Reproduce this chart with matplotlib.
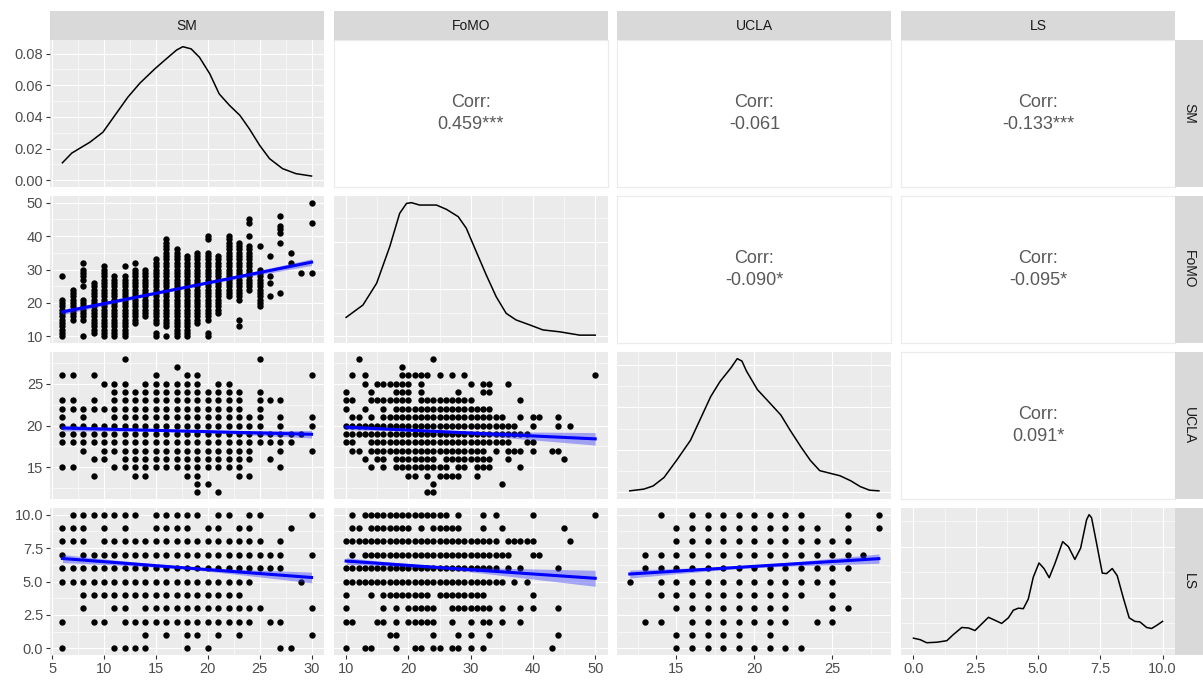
import numpy as np
import matplotlib
matplotlib.use('Agg')
import matplotlib.pyplot as plt
from matplotlib.ticker import MultipleLocator, FormatStrFormatter

plt.rcParams['font.family'] = ['Liberation Sans', 'DejaVu Sans']

# variables and their observed ranges
variables = ['SM', 'FoMO', 'UCLA', 'LS']
data_range = {'SM': (6, 30), 'FoMO': (10, 50), 'UCLA': (12, 28), 'LS': (0, 10)}
major_step = {'SM': 5, 'FoMO': 10, 'UCLA': 5, 'LS': 2.5}
tick_fmt = {'SM': '%d', 'FoMO': '%d', 'UCLA': '%d', 'LS': '%.1f'}

# correlations shown in the upper triangle
corr_labels = {
    ('SM', 'FoMO'): '0.459***',
    ('SM', 'UCLA'): '-0.061',
    ('SM', 'LS'): '-0.133***',
    ('FoMO', 'UCLA'): '-0.090*',
    ('FoMO', 'LS'): '-0.095*',
    ('UCLA', 'LS'): '0.091*',
}

# density curves on the diagonal
sm_density_x = [6.0, 6.9, 8.65, 9.9, 11.05, 12.3, 13.45, 14.9, 16.0, 17.0, 17.6, 18.4,
                19.2, 20.2, 21.1, 22.1, 23.1, 24.0, 25.0, 25.95, 27.2, 28.5, 30.0]
sm_density_y = [0.0111, 0.0172, 0.0241, 0.0304, 0.0410, 0.0525, 0.0613, 0.0704, 0.0767,
                0.0823, 0.0844, 0.0830, 0.0777, 0.0672, 0.0546, 0.0473, 0.0410, 0.0326,
                0.0221, 0.0137, 0.0074, 0.0042, 0.0027]

fomo_density_x = [10, 12.7, 14.9, 17, 18.6, 19.7, 20.5, 21.8, 24.5, 26.1, 28, 29.3, 30.9,
                  32.5, 34.1, 35.7, 37.3, 39.5, 41.6, 44.3, 47.5, 50]
fomo_density_y = [0.0080, 0.0132, 0.0224, 0.0378, 0.0519, 0.0561, 0.0564, 0.0554, 0.0554,
                  0.0536, 0.0505, 0.0456, 0.0357, 0.0259, 0.0167, 0.0097, 0.0069, 0.0048,
                  0.0027, 0.0019, 0.0005, 0.0005]

ucla_density_x = [12.0, 12.9, 13.5, 14.2, 15.0, 15.9, 16.5, 17.2, 17.8, 18.5, 18.9, 19.2,
                  19.5, 20.2, 21.0, 21.7, 22.3, 23.0, 23.6, 24.2, 24.9, 25.5, 26.2, 26.8,
                  27.4, 28.0]
ucla_density_y = [0.0007, 0.0015, 0.0030, 0.0070, 0.0150, 0.0245, 0.0340, 0.0451, 0.0522,
                  0.0586, 0.0629, 0.0618, 0.0570, 0.0483, 0.0420, 0.0364, 0.0292, 0.0213,
                  0.0150, 0.0102, 0.0089, 0.0078, 0.0054, 0.0027, 0.0010, 0.0007]

ls_density_x = [0, 0.27, 0.53, 0.94, 1.34, 1.60, 1.94, 2.21, 2.47, 2.74, 3.01, 3.28, 3.54,
                3.81, 4.01, 4.21, 4.41, 4.61, 4.81, 5.04, 5.24, 5.45, 5.68, 5.99, 6.22,
                6.48, 6.71, 6.95, 7.05, 7.15, 7.35, 7.58, 7.75, 7.98, 8.18, 8.42, 8.66,
                8.89, 9.09, 9.36, 9.56, 9.76, 10.0]
ls_density_y = [0.020, 0.017, 0.011, 0.012, 0.015, 0.027, 0.041, 0.040, 0.035, 0.048,
                0.061, 0.055, 0.049, 0.060, 0.075, 0.079, 0.078, 0.097, 0.140, 0.168,
                0.157, 0.139, 0.167, 0.210, 0.200, 0.175, 0.197, 0.253, 0.263, 0.257,
                0.207, 0.148, 0.147, 0.157, 0.143, 0.100, 0.060, 0.053, 0.052, 0.041,
                0.039, 0.045, 0.053]

# scatter points, as runs of integer values
# SM value -> FoMO values present
fomo_by_sm = {
    6: '10-21,28', 7: '15-24', 8: '10,15-21,25,27-30,32', 9: '11-26', 10: '10-31',
    11: '10-28', 12: '10-28,31', 13: '14-30,32', 14: '16-30', 15: '10,11,14-33',
    16: '10,13-39', 17: '10-36', 18: '10-34', 19: '14-35', 20: '10,11,15-35,39,40',
    21: '17-34', 22: '22-40', 23: '13,15,21-38', 24: '24-37,40,44,45', 25: '19-30,37',
    26: '22,26,28,34', 27: '23,38,41-43,46', 28: '32,35', 29: '29', 30: '29,44,50',
}
# UCLA value -> SM values present
sm_by_ucla = {
    28: '12,25', 27: '17', 26: '6,7,9,15,18,19,30', 25: '10-12,14-19,21,22',
    24: '11-23,25', 23: '6,7,9,11-23,25-27', 22: '6-23,25', 21: '6,8,11-25,27,30',
    20: '6-25,27,30', 19: '6-29', 18: '6-28', 17: '8,10-24,27,30', 16: '9,10,12-24,26',
    15: '6,7,11-23,27', 14: '9,13,14,18,19,23,24', 13: '19,20', 12: '19,21',
}
# LS value -> SM values present
sm_by_ls = {
    10: '7-13,15-19,21,22,24,25,30', 9: '6-8,10,12,15-18,20,21,23,24,28',
    8: '6-8,10-25,27', 7: '6,8-27,30', 6: '6-27', 5: '6-24,29', 4: '8-23',
    3: '8,11,12,14-25,30', 2: '6,9,10,12-24,26,27', 1: '14,16,18,19,21,23,30',
    0: '6,11-14,18,20,27,28',
}
# UCLA value -> FoMO values present
fomo_by_ucla = {
    28: '12,24', 27: '19', 26: '11,13,19-23,25,27,29,50', 25: '13,15-20,22,30,32,33,36',
    24: '10,14,18-20,22,28,32,33', 23: '10,11,14-20,22-30,38', 22: '10,13,16,18-33',
    21: '11,12,14,16-35,38,40,41,44', 20: '10-37,40,44,46', 19: '10-39',
    18: '10,11,14-36,39,40', 17: '11,12,14-32,34,36-38,40,43,44',
    16: '13,15,16,18-24,26-33,36,45', 15: '14,16,18-26,28,29,31-33,38',
    14: '20,21,23,25-28,31', 13: '24,35', 12: '23,24',
}
# LS value -> FoMO values present
fomo_by_ls = {
    10: '11,13-26,28,32,34,40,50', 9: '11,12,14-20,22,24-28,32,35,45',
    8: '10-34,36-40,46', 7: '11,13-36,40,41', 6: '10-34,36,38,44', 5: '10-35,37,39',
    4: '10,14,16-23,25-32,40', 3: '10,16,18,20-24,27-33,35,38,40,44',
    2: '10,11,15,16,18,20-24,27,30,32,33,35,38', 1: '17,18,24,28,30,33,44',
    0: '10,13,14,18,21,22,24,25,27,28,30,32,43',
}
# LS value -> UCLA values present
ucla_by_ls = {
    10: '14,16-23,26,28', 9: '15-24,26,28', 8: '15-26', 7: '13-27', 6: '13-26',
    5: '12,14-25', 4: '14-23,25', 3: '15-22,25,26', 2: '13,14,16-22,24,25',
    1: '15-19,21', 0: '15-23',
}

# lm fit: value at the smallest and largest x, and CI half widths (left, centre, right)
fit_ends = {
    ('FoMO', 'SM'): (17.3, 32.2), ('UCLA', 'SM'): (19.7, 18.95), ('LS', 'SM'): (6.72, 5.30),
    ('UCLA', 'FoMO'): (19.8, 18.4), ('LS', 'FoMO'): (6.53, 5.24), ('LS', 'UCLA'): (5.56, 6.71),
}
fit_band = {
    ('FoMO', 'SM'): (0.8, 0.3, 1.0), ('UCLA', 'SM'): (0.35, 0.12, 0.45),
    ('LS', 'SM'): (0.3, 0.1, 0.4), ('UCLA', 'FoMO'): (0.3, 0.12, 0.75),
    ('LS', 'FoMO'): (0.25, 0.1, 0.6), ('LS', 'UCLA'): (0.3, 0.1, 0.35),
}
x_mean = {'SM': 17.5, 'FoMO': 24, 'UCLA': 19.5}


def expand(spec):
    vals = []
    for part in spec.split(','):
        if '-' in part:
            a, b = part.split('-')
            vals.extend(range(int(a), int(b) + 1))
        else:
            vals.append(int(part))
    return vals


def points_by_x(d):
    xs, ys = [], []
    for x, spec in d.items():
        for y in expand(spec):
            xs.append(x)
            ys.append(y)
    return np.array(xs), np.array(ys)


def points_by_y(d):
    ys, xs = points_by_x(d)
    return xs, ys


scatter = {
    ('FoMO', 'SM'): points_by_x(fomo_by_sm),
    ('UCLA', 'SM'): points_by_y(sm_by_ucla),
    ('LS', 'SM'): points_by_y(sm_by_ls),
    ('UCLA', 'FoMO'): points_by_y(fomo_by_ucla),
    ('LS', 'FoMO'): points_by_y(fomo_by_ls),
    ('LS', 'UCLA'): points_by_y(ucla_by_ls),
}
density = {
    'SM': (sm_density_x, sm_density_y, 0.02),
    'FoMO': (fomo_density_x, fomo_density_y, 0.02),
    'UCLA': (ucla_density_x, ucla_density_y, 0.02),
    'LS': (ls_density_x, ls_density_y, 0.1),
}


def expanded(lo, hi):
    pad = (hi - lo) * 0.05
    return lo - pad, hi + pad


W, H = 1203, 680
fig = plt.figure(figsize=(W / 100, H / 100), dpi=100)
fig.patch.set_facecolor('white')

panel_w, panel_h = 274, 147
col_left = [50 + j * 283.67 for j in range(4)]
row_top = [40 + i * 156 for i in range(4)]

strip_col = '#D9D9D9'
text_col = '#4D4D4D'

for i, rv in enumerate(variables):
    for j, cv in enumerate(variables):
        rect = [col_left[j] / W, (H - row_top[i] - panel_h) / H, panel_w / W, panel_h / H]
        ax = fig.add_axes(rect)
        for s in ax.spines.values():
            s.set_visible(False)
        ax.tick_params(which='both', length=0, labelbottom=False, labelleft=False)

        if j > i:
            # correlation text panel
            ax.set_facecolor('white')
            for s in ax.spines.values():
                s.set_visible(True)
                s.set_color('#EBEBEB')
                s.set_linewidth(0.8)
            ax.set_xticks([])
            ax.set_yticks([])
            ax.text(0.5, 0.5, 'Corr:\n' + corr_labels[(rv, cv)], transform=ax.transAxes,
                    ha='center', va='center', fontsize=13, color='#595959',
                    linespacing=1.4)
            continue

        ax.set_facecolor('#EBEBEB')
        ax.set_axisbelow(True)
        ax.set_xlim(*expanded(*data_range[cv]))
        ax.xaxis.set_major_locator(MultipleLocator(major_step[cv]))
        ax.xaxis.set_minor_locator(MultipleLocator(major_step[cv] / 2))

        if i == j:
            dx, dy, step = density[cv]
            top = max(dy)
            ax.plot(dx, dy, color='black', lw=1.1, zorder=3, solid_joinstyle='round')
            ax.set_ylim(-0.05 * top, 1.05 * top)
            ax.yaxis.set_major_locator(MultipleLocator(step))
            ax.yaxis.set_minor_locator(MultipleLocator(step / 2))
            ax.yaxis.set_major_formatter(FormatStrFormatter('%.2f'))
        else:
            px, py = scatter[(rv, cv)]
            ax.scatter(px, py, s=21, color='black', linewidths=0, zorder=2)
            x0, x1 = data_range[cv]
            y0, y1 = fit_ends[(rv, cv)]
            hl, hm, hr = fit_band[(rv, cv)]
            xm = x_mean[cv]
            xs = np.linspace(x0, x1, 80)
            line = y0 + (y1 - y0) * (xs - x0) / (x1 - x0)
            t = np.where(xs < xm, (xm - xs) / (xm - x0), (xs - xm) / (x1 - xm))
            edge = np.where(xs < xm, hl, hr)
            hw = np.sqrt(hm ** 2 + (edge ** 2 - hm ** 2) * t ** 2)
            ax.fill_between(xs, line - hw, line + hw, color='#3333FF', alpha=0.4,
                            linewidth=0, zorder=3)
            ax.plot(xs, line, color='#0000FF', lw=2.2, zorder=4)
            ax.set_ylim(*expanded(*data_range[rv]))
            ax.yaxis.set_major_locator(MultipleLocator(major_step[rv]))
            ax.yaxis.set_minor_locator(MultipleLocator(major_step[rv] / 2))
            ax.yaxis.set_major_formatter(FormatStrFormatter(tick_fmt[rv]))

        ax.grid(which='major', color='white', lw=0.85)
        ax.grid(which='minor', color='white', lw=0.4)

        if j == 0:
            ax.tick_params(axis='y', which='major', length=3, width=0.8, color='#333333',
                           labelleft=True, labelsize=10.5, labelcolor=text_col, pad=2)
        if i == 3:
            ax.xaxis.set_major_formatter(FormatStrFormatter(tick_fmt[cv]))
            ax.tick_params(axis='x', which='major', length=3, width=0.8, color='#333333',
                           labelbottom=True, labelsize=10.5, labelcolor=text_col, pad=2)

# column strips on top
for j, cv in enumerate(variables):
    sax = fig.add_axes([col_left[j] / W, (H - 40) / H, panel_w / W, 29 / H])
    sax.set_facecolor(strip_col)
    sax.set_xticks([])
    sax.set_yticks([])
    for s in sax.spines.values():
        s.set_visible(False)
    sax.text(0.5, 0.5, cv, ha='center', va='center', fontsize=10, color='#1A1A1A',
             transform=sax.transAxes)

# row strips on the right
for i, rv in enumerate(variables):
    sax = fig.add_axes([1175 / W, (H - row_top[i] - panel_h) / H, 28 / W, panel_h / H])
    sax.set_facecolor(strip_col)
    sax.set_xticks([])
    sax.set_yticks([])
    for s in sax.spines.values():
        s.set_visible(False)
    sax.text(0.5, 0.5, rv, ha='center', va='center', fontsize=10, color='#1A1A1A',
             rotation=-90, transform=sax.transAxes)

fig.savefig('out.png', dpi=100, facecolor='white')
